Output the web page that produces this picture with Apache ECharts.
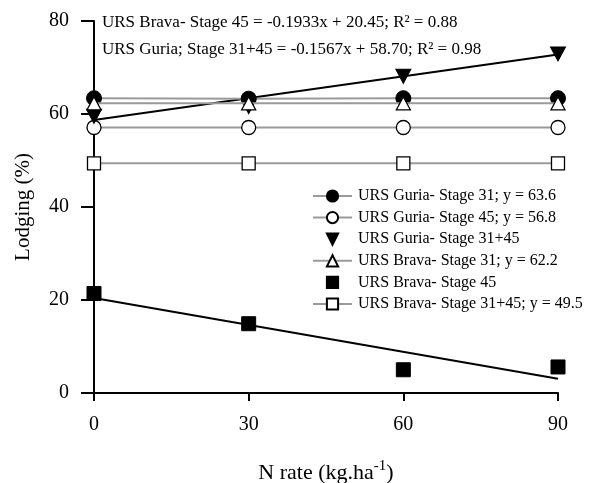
<!DOCTYPE html>
<html><head><meta charset="utf-8">
<script src="https://cdn.jsdelivr.net/npm/echarts@6/dist/echarts.min.js"></script>
<style>html,body{margin:0;padding:0;background:#fff}#c{width:598px;height:483px}</style>
</head><body><div id="c"></div>
<script>
const nRates = [0, 30, 60, 90];
const yTicks = [0, 20, 40, 60, 80];
const guria31 = [63.4, 63.3, 63.4, 63.4];
const guria45 = [57.1, 57.1, 57.1, 57.1];
const guria3145 = [59.5, 61.6, 68.1, 72.9];
const brava31 = [62.3, 62.3, 62.3, 62.3];
const brava45 = [21.4, 14.9, 5.0, 5.6];
const brava3145 = [49.4, 49.4, 49.4, 49.4];
const trendGuria3145 = [58.70, 72.80];
const trendBrava45 = [20.45, 3.05];
const trendX = [0, 90];
const names = [
  'URS Guria- Stage 31; y = 63.6',
  'URS Guria- Stage 45; y = 56.8',
  'URS Guria- Stage 31+45',
  'URS Brava- Stage 31; y = 62.2',
  'URS Brava- Stage 45',
  'URS Brava- Stage 31+45; y = 49.5'
];
const eq1 = 'URS Brava- Stage 45 = -0.1933x + 20.45; R\u00B2 = 0.88';
const eq2 = 'URS Guria; Stage 31+45 = -0.1567x + 58.70; R\u00B2 = 0.98';

const FONT = 'Liberation Serif';
const pairs = a => a.map((v, i) => [nRates[i], v]);
const downTri = 'path://M0,0 L10,0 L5,9 Z';
const open = {color: '#fff', borderColor: '#000', borderWidth: 1.3, opacity: 1};
const filled = {color: '#000', borderColor: '#000', borderWidth: 1, opacity: 1};
const grayLine = {color: '#9a9a9a', width: 2};
const noLine = {color: '#000', width: 0, opacity: 0};

const chart = echarts.init(document.getElementById('c'), null, {renderer: 'canvas'});
chart.setOption({
  animation: false,
  grid: {left: 94, right: 40, top: 21, bottom: 90, containLabel: false, outerBoundsMode: 'none'},
  xAxis: {
    type: 'value', min: 0, max: 90, interval: 30,
    axisLine: {show: true, onZero: false, lineStyle: {color: '#000', width: 2}},
    axisTick: {show: true, length: 8, lineStyle: {color: '#000', width: 2}},
    splitLine: {show: false},
    axisLabel: {color: '#000', fontFamily: FONT, fontSize: 20, margin: 22},
    name: 'N rate (kg.ha{sup|-1})',
    nameLocation: 'middle', nameGap: 66,
    nameTextStyle: {color: '#000', fontFamily: FONT, fontSize: 22,
      rich: {sup: {fontFamily: FONT, fontSize: 15, color: '#000', verticalAlign: 'top', padding: [0, 0, 13, 0]}}}
  },
  yAxis: {
    type: 'value', min: 0, max: 80, interval: 20,
    axisLine: {show: true, onZero: false, lineStyle: {color: '#000', width: 2}},
    axisTick: {show: true, length: 13, lineStyle: {color: '#000', width: 2}},
    splitLine: {show: false},
    axisLabel: {color: '#000', fontFamily: FONT, fontSize: 20, margin: 25,
      formatter: v => yTicks.includes(v) ? String(v) : ''},
    name: 'Lodging (%)', nameLocation: 'middle', nameGap: 60, nameRotate: 90,
    nameTextStyle: {color: '#000', fontFamily: FONT, fontSize: 21}
  },
  legend: {
    orient: 'vertical', left: 307, top: 183, itemGap: 5.6,
    itemWidth: 39, itemHeight: 14,
    data: names,
    textStyle: {color: '#000', fontFamily: FONT, fontSize: 16, lineHeight: 16, padding: [0, 0, 0, 1]}
  },
  graphic: [
    {type: 'text', left: 102, top: 14, style: {text: eq1, font: '17px "Liberation Serif"', fill: '#000'}},
    {type: 'text', left: 102, top: 41, style: {text: eq2, font: '17px "Liberation Serif"', fill: '#000'}}
  ],
  series: [
    {name: 'trendG', type: 'line', data: trendX.map((x, i) => [x, trendGuria3145[i]]), symbol: 'none',
      lineStyle: {color: '#000', width: 2}, z: 1, silent: true},
    {name: 'trendB', type: 'line', data: trendX.map((x, i) => [x, trendBrava45[i]]), symbol: 'none',
      lineStyle: {color: '#000', width: 2}, z: 1, silent: true},
    {name: names[5], type: 'line', data: pairs(brava3145), symbol: 'rect', symbolSize: 13,
      lineStyle: grayLine, itemStyle: open, z: 2},
    {name: names[1], type: 'line', data: pairs(guria45), symbol: 'circle', symbolSize: 14,
      lineStyle: grayLine, itemStyle: open, z: 3},
    {name: names[2], type: 'line', data: pairs(guria3145), symbol: downTri, symbolSize: [15, 14],
      lineStyle: noLine, itemStyle: filled, z: 4},
    {name: names[0], type: 'line', data: pairs(guria31), symbol: 'circle', symbolSize: 15,
      lineStyle: grayLine, itemStyle: filled, z: 5},
    {name: names[3], type: 'line', data: pairs(brava31), symbol: 'triangle', symbolSize: [14, 13],
      lineStyle: grayLine, itemStyle: open, z: 6},
    {name: names[4], type: 'line', data: pairs(brava45), symbol: 'rect', symbolSize: 14,
      lineStyle: noLine, itemStyle: filled, z: 4}
  ]
});
</script></body></html>
